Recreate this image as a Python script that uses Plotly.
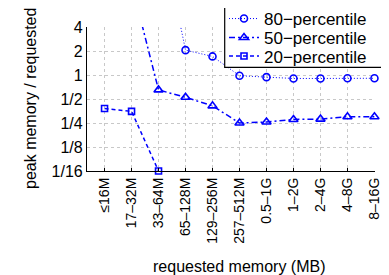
import plotly.graph_objects as go
import math

categories = ["≤16M", "17–32M", "33–64M", "65–128M", "129–256M", "257–512M",
              "0.5–1G", "1–2G", "2–4G", "4–8G", "8–16G"]
p80 = [None, None, 90, 2.05, 1.71, 0.98, 0.94, 0.905, 0.905, 0.91, 0.91]
p50 = [None, 14, 0.65, 0.525, 0.41, 0.25, 0.257, 0.277, 0.28, 0.30, 0.30]
p20 = [0.38, 0.35, 0.0625, None, None, None, None, None, None, None, None]
ytick_vals = [1/16, 1/8, 1/4, 1/2, 1, 2, 4]
ytick_text = ["1/16", "1/8", "1/4", "1/2", "1", "2", "4"]

FONT = "Liberation Sans, Arial, sans-serif"
BLUE = "#0000ff"

W, H = 389, 275
ml, mr, mt, mb = 79, 22, 19, 112
pw, ph = W - ml - mr, H - mt - mb

def px_x(x):
    return (x - ml) / pw

def px_y(y):
    return (H - mb - y) / ph

fig = go.Figure()
series = [
    ("80−percentile", p80, "1px,2px", "circle-open", 7, 1.0, "legend", 11),
    ("50−percentile", p50, "6px,3px,2px,3px", "triangle-up-open", 8, 1.5, "legend2", 30),
    ("20−percentile", p20, "4px,3px", "square-open", 6, 1.5, "legend3", 48.5),
]
legend_cfg = {}
for name, vals, dash, sym, size, lw, leg, ly in series:
    fig.add_trace(go.Scatter(
        x=categories, y=vals, name=name, mode="lines+markers", legend=leg,
        line=dict(color=BLUE, width=lw, dash=dash),
        marker=dict(symbol=sym, size=size, color=BLUE, line=dict(color=BLUE, width=1.6)),
        cliponaxis=False, connectgaps=False,
    ))
    legend_cfg[leg] = dict(
        x=px_x(216), y=px_y(ly), xanchor="left", yanchor="middle",
        bgcolor="rgba(0,0,0,0)", borderwidth=0,
        font=dict(family=FONT, size=17, color="black"),
        itemwidth=30,
    )

fig.update_layout(
    width=W, height=H,
    margin=dict(l=ml, r=mr, t=mt, b=mb, pad=0, autoexpand=False),
    paper_bgcolor="white", plot_bgcolor="white",
    font=dict(family=FONT, color="black", size=14),
    showlegend=True,
    xaxis=dict(
        type="category", range=[-0.65, 10.02],
        showline=True, linecolor="black", linewidth=1.2, mirror=False,
        showgrid=True, gridcolor="#c8c8c8", griddash="dot", gridwidth=1,
        ticks="inside", ticklen=3, tickcolor="black",
        tickangle=-90, tickfont=dict(family=FONT, size=14, color="black"),
        zeroline=False,
    ),
    yaxis=dict(
        type="log", range=[math.log10(1/16), math.log10(4)],
        tickvals=ytick_vals, ticktext=ytick_text,
        showline=True, linecolor="black", linewidth=1.2, mirror=False,
        showgrid=True, gridcolor="#c8c8c8", griddash="dot", gridwidth=1,
        ticks="", tickfont=dict(family=FONT, size=16, color="black"),
        zeroline=False,
    ),
    shapes=[dict(type="rect", xref="paper", yref="paper",
                 x0=px_x(216.7), x1=px_x(395), y0=px_y(59.3), y1=px_y(-5),
                 fillcolor="white", line=dict(color="black", width=1.2), layer="above")],
    annotations=[
        dict(text="peak memory / requested", x=px_x(22), y=0.5, xref="paper", yref="paper",
             xanchor="center", yanchor="middle", textangle=-90, showarrow=False,
             font=dict(family=FONT, size=16, color="black")),
        dict(text="requested memory (MB)", x=px_x(231), y=px_y(258),
             xref="paper", yref="paper", xanchor="center", yanchor="middle", showarrow=False,
             font=dict(family=FONT, size=16, color="black")),
    ],
    **legend_cfg,
)

fig.write_html("out.html")
